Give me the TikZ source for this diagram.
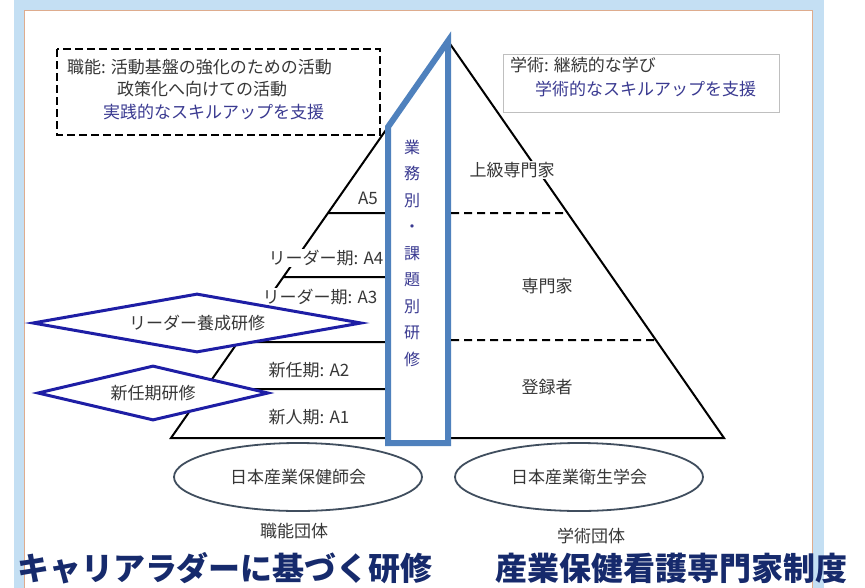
\documentclass[tikz,border=0pt]{standalone}
\usepackage{fontspec}
\setmainfont{Noto Sans CJK JP}
\usetikzlibrary{shapes.geometric}
\definecolor{colblue}{RGB}{79,129,189}
\definecolor{dmblue}{RGB}{30,30,165}
\definecolor{txtblue}{RGB}{58,58,145}
\definecolor{ttlblue}{RGB}{22,42,108}
\definecolor{txtgray}{RGB}{55,55,55}
\definecolor{glow}{RGB}{196,223,243}
\definecolor{frametan}{RGB}{222,172,142}
\definecolor{ringgray}{RGB}{64,78,94}
\tikzset{
  lbl/.style={fill=white,inner sep=1pt,text=txtgray,font=\fontsize{17}{20}\selectfont},
  note/.style={anchor=west,inner sep=0pt,font=\fontsize{17}{20}\selectfont},
  dmd/.style={diamond,draw=dmblue,line width=3pt,fill=white,inner sep=0pt,aspect=5,text=txtgray,font=\fontsize{17}{20}\selectfont},
  ring/.style={ellipse,draw=ringgray,line width=1.8pt,minimum width=248pt,minimum height=68pt,text=txtgray,font=\fontsize{17}{20}\selectfont},
  ttl/.style={text=ttlblue,font=\fontsize{32}{36}\selectfont\bfseries,inner sep=0pt},
  lvl/.style={dash pattern=on 8pt off 5pt,line width=2pt}
}
\begin{document}
\begin{tikzpicture}[x=1pt,y=-1pt]
				\clip (0,0) rectangle (865,587);
				\fill[white] (0,0) rectangle (865,587);
				% frame
				\draw[glow,line width=11pt] (19,5) rectangle (818.5,620);
				\draw[frametan,line width=1pt] (24.5,10.5) rectangle (812.5,620);
				% pyramid
				\path (448,41) coordinate (T);
				\path (171,438) coordinate (BL);
				\path (724,438) coordinate (BR);
				\path (intersection of BL--T and 388,0--388,10) coordinate (S);
				\path (intersection of BL--T and 0,213--10,213) coordinate (L5);
				\path (intersection of BL--T and 0,277--10,277) coordinate (L4);
				\path (intersection of BL--T and 0,342--10,342) coordinate (L3);
				\path (intersection of BL--T and 0,389--10,389) coordinate (L2);
				\path (intersection of T--BR and 0,213--10,213) coordinate (R2);
				\path (intersection of T--BR and 0,340--10,340) coordinate (R1);
				\draw[line width=2pt] (BL) -- (T) -- (BR) -- cycle;
				\draw[line width=2pt] (L5) -- (388,213) (L4) -- (388,277) (L3) -- (388,342) (L2) -- (388,389);
				\draw[colblue,line width=6pt,fill=white] (T) -- (S) -- (388,443) -- (448,443) -- cycle;
				\draw[lvl] (451,213) -- (R2) (451,340) -- (R1);
				\node[text=txtblue,align=center,inner sep=0pt,font=\fontsize{16}{26.5}\selectfont] (col) at (412,253) {業\\務\\別\\・\\課\\題\\別\\研\\修};
				% levels
				\node[lbl] (a5) at (368,198) {A5};
				\node[lbl] (a4) at (326,258) {リーダー期: A4};
				\node[lbl] (a3) at (320,297) {リーダー期: A3};
				\node[lbl] (a2) at (309,370) {新任期: A2};
				\node[lbl] (a1) at (309,417) {新人期: A1};
				\node[lbl] (g3) at (512,170) {上級専門家};
				\node[lbl] (g2) at (547,286) {専門家};
				\node[lbl] (g1) at (547,387) {登録者};
				% trainings
				\node[dmd,minimum width=329pt,minimum height=59pt] (lead) at (197,323) {リーダー養成研修};
				\node[dmd,minimum width=231pt,minimum height=55pt] (new) at (153,393) {新任期研修};
				% notes
				\draw[dash pattern=on 8pt off 4pt,line width=2pt] (57,49) rectangle (380,135);
				\node[note,text=txtgray] (n1) at (67,67) {職能: 活動基盤の強化のための活動};
				\node[note,text=txtgray] (n2) at (117,89) {政策化へ向けての活動};
				\node[note,text=txtblue] (n3) at (103,112) {実践的なスキルアップを支援};
				\draw[black!25,line width=0.8pt] (503,54) rectangle (779,112);
				\node[note,text=txtgray] (m1) at (510,65) {学術: 継続的な学び};
				\node[note,text=txtblue] (m2) at (535,89) {学術的なスキルアップを支援};
				% bodies
				\node[ring] (jan) at (298,477) {日本産業保健師会};
				\node[ring] (jsoh) at (579,477) {日本産業衛生学会};
				\node[lbl] (jant) at (294,531) {職能団体};
				\node[lbl] (jsoht) at (591,536) {学術団体};
				\node[ttl] (t1) at (225,568) {キャリアラダーに基づく研修};
				\node[ttl] (t2) at (671,568) {産業保健看護専門家制度};
\end{tikzpicture}
\end{document}
